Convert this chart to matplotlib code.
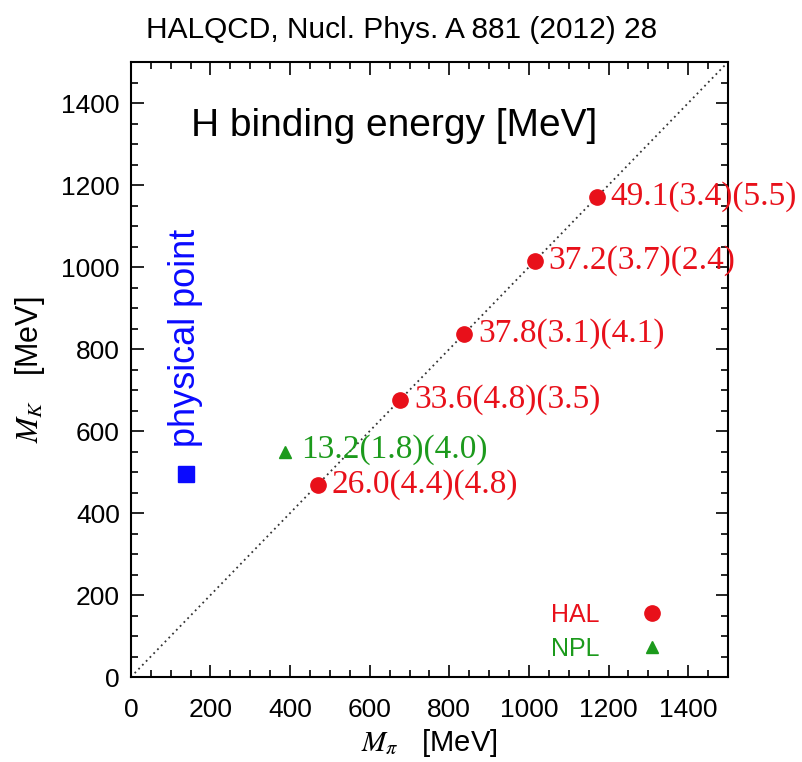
import matplotlib
matplotlib.use("Agg")
import matplotlib.pyplot as plt
from matplotlib.ticker import MultipleLocator

# HAL QCD, SU(3) limit : M_pi = M_K
hal_mpi = [469, 676, 837, 1015, 1171]
hal_mk = [469, 676, 837, 1015, 1171]
hal_lab = ["26.0(4.4)(4.8)", "33.6(4.8)(3.5)", "37.8(3.1)(4.1)",
           "37.2(3.7)(2.4)", "49.1(3.4)(5.5)"]

# NPLQCD
npl_mpi = [387]
npl_mk = [549]
npl_lab = ["13.2(1.8)(4.0)"]

# point physique
phys_mpi = [138]
phys_mk = [496]

rouge = "#e8101a"
vert = "#1c9a1c"
bleu = "#0a0aff"

plt.rcParams["font.family"] = ["Liberation Sans", "DejaVu Sans"]
plt.rcParams["mathtext.fontset"] = "stix"

fig = plt.figure(figsize=(8.03, 7.62), dpi=100)
ax = fig.add_axes([0.163, 0.1115, 0.7435, 0.807])

# diagonale M_K = M_pi
ax.plot([0, 1500], [0, 1500], ls=(0, (1, 2)), color="#333333", lw=1.3)

ax.plot(hal_mpi, hal_mk, "o", color=rouge, ms=11, label="HAL")
ax.plot(npl_mpi, npl_mk, "^", color=vert, ms=9, label="NPL")
ax.plot(phys_mpi, phys_mk, "s", color=bleu, ms=11)

for x, y, t in zip(hal_mpi, hal_mk, hal_lab):
    ax.annotate(t, (x, y), xytext=(10, 0), textcoords="offset points",
                va="center", ha="left", color=rouge, fontsize=24,
                family="Liberation Serif", annotation_clip=False)
for x, y, t in zip(npl_mpi, npl_mk, npl_lab):
    ax.annotate(t, (x, y), xytext=(12, 2), textcoords="offset points",
                va="center", ha="left", color=vert, fontsize=24,
                family="Liberation Serif")

ax.annotate("physical point", (phys_mpi[0], phys_mk[0]), xytext=(0, 19),
            textcoords="offset points", rotation=90, ha="center", va="bottom",
            color=bleu, fontsize=26)

ax.text(150, 1345, "H binding energy [MeV]", fontsize=28, va="center", ha="left")

ax.set_xlim(0, 1500)
ax.set_ylim(0, 1500)
ax.xaxis.set_major_locator(MultipleLocator(200))
ax.xaxis.set_minor_locator(MultipleLocator(50))
ax.yaxis.set_major_locator(MultipleLocator(200))
ax.yaxis.set_minor_locator(MultipleLocator(50))
ax.tick_params(which="both", direction="in", top=True, right=True,
               labelsize=19, width=1.2)
ax.tick_params(axis="x", which="major", pad=15)
ax.tick_params(axis="y", which="major", pad=8)
ax.tick_params(which="major", length=9)
ax.tick_params(which="minor", length=5)
for s in ax.spines.values():
    s.set_linewidth(1.5)

ax.set_xlabel(r"$M_\pi$   [MeV]", fontsize=21, labelpad=4)
ax.set_ylabel(r"$M_K$   [MeV]", fontsize=22, labelpad=10)

leg = ax.legend(loc="lower right", markerfirst=False, frameon=False,
                fontsize=18, handlelength=1.0, handletextpad=1.6,
                labelspacing=0.4, borderaxespad=0,
                bbox_to_anchor=(0.911, 0.01))
for t, c in zip(leg.get_texts(), [rouge, vert]):
    t.set_color(c)

fig.text(0.5, 0.96, "HALQCD, Nucl. Phys. A 881 (2012) 28", ha="center",
         va="center", fontsize=21.5)

fig.savefig("out.png", dpi=100)
